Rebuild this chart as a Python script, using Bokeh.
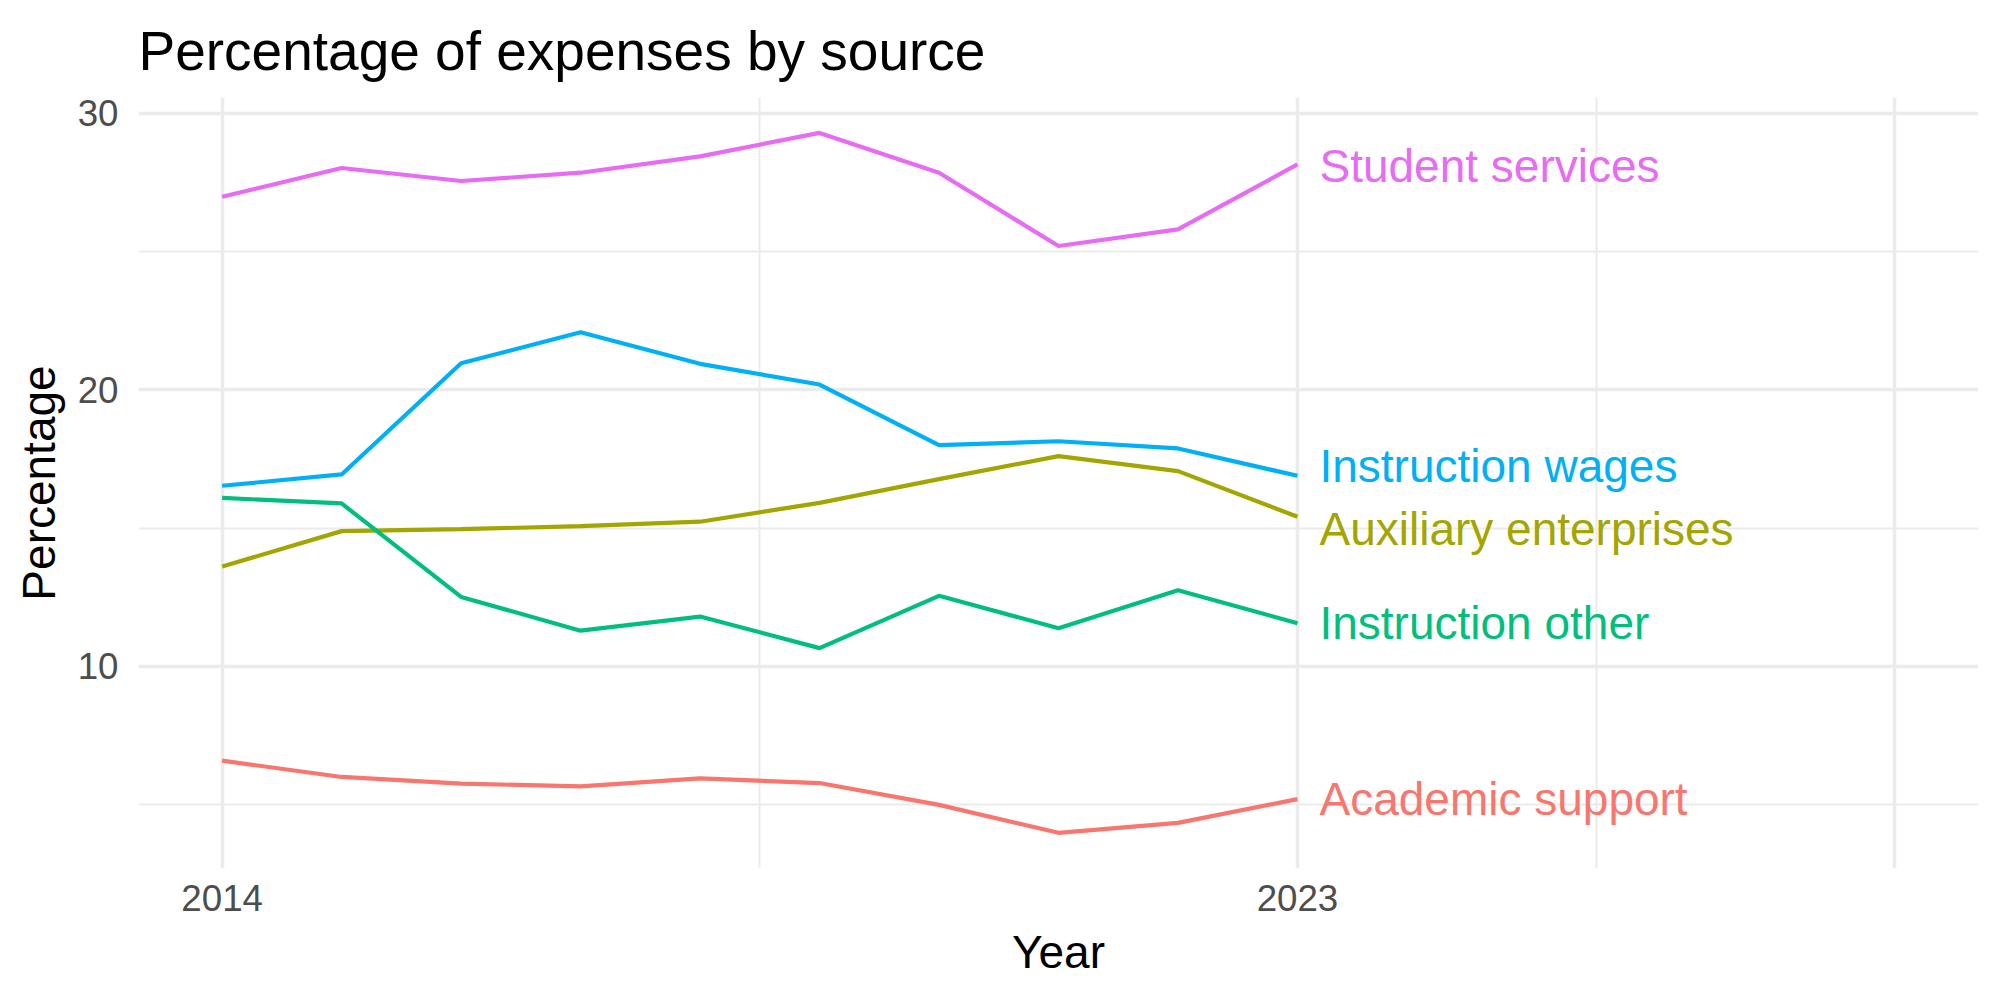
from bokeh.plotting import figure
from bokeh.models import FixedTicker, Range1d, ColumnDataSource
from bokeh.core.properties import value
from bokeh.embed import file_html
from bokeh.resources import INLINE

years = [2014, 2015, 2016, 2017, 2018, 2019, 2020, 2021, 2022, 2023]

academic_support = [6.59, 6.00, 5.76, 5.66, 5.95, 5.78, 4.99, 3.98, 4.34, 5.20]
auxiliary_enterprises = [13.61, 14.89, 14.96, 15.07, 15.23, 15.91, 16.77, 17.60, 17.06, 15.41]
instruction_other = [16.09, 15.89, 12.51, 11.29, 11.80, 10.66, 12.55, 11.38, 12.75, 11.56]
instruction_wages = [16.53, 16.94, 20.96, 22.08, 20.94, 20.19, 18.00, 18.14, 17.88, 16.89]
student_services = [26.98, 28.02, 27.55, 27.85, 28.44, 29.29, 27.85, 25.20, 25.80, 28.15]

series_names = ["Academic support", "Auxiliary enterprises", "Instruction other",
                "Instruction wages", "Student services"]
series_values = [academic_support, auxiliary_enterprises, instruction_other,
                 instruction_wages, student_services]
series_colors = ["#F8766D", "#A3A500", "#00BF7D", "#00B0F6", "#E76BF3"]
# repelled label positions (y in data units) at the last year
label_y = [5.21, 14.96, 11.55, 17.26, 28.11]

x_tick_labels = ["2014", "2023"]
x_ticks = [2014, 2023]
x_grid_major = [2014, 2023, 2028]
x_grid_minor = [2018.5, 2025.5]
y_ticks = [10, 20, 30]
y_minor = [5, 15, 25]

FONT = "Liberation Sans"

p = figure(width=2000, height=1000, output_backend="svg", toolbar_location=None,
           x_range=Range1d(2013.3, 2028.7), y_range=Range1d(2.69, 30.57),
           title="Percentage of expenses by source",
           min_border_left=138, min_border_right=22, min_border_top=97,
           min_border_bottom=132)

p.outline_line_color = None
p.background_fill_color = "white"
p.border_fill_color = "white"

# title
p.title.text_font = FONT
p.title.text_font_size = "55px"
p.title.text_font_style = "normal"
p.title.text_color = "black"
p.title.align = "left"
p.title.standoff = 32

# grids
p.xgrid.ticker = FixedTicker(ticks=x_grid_major, minor_ticks=x_grid_minor)
p.ygrid.ticker = FixedTicker(ticks=y_ticks, minor_ticks=y_minor)
for g in (p.xgrid, p.ygrid):
    g.grid_line_color = "#EBEBEB"
    g.grid_line_width = 3.5
    g.minor_grid_line_color = "#EBEBEB"
    g.minor_grid_line_width = 2

# axes
p.xaxis.ticker = FixedTicker(ticks=x_ticks)
p.xaxis.major_label_overrides = {t: l for t, l in zip(x_ticks, x_tick_labels)}
p.yaxis.ticker = FixedTicker(ticks=y_ticks)
for ax in (p.xaxis, p.yaxis):
    ax.axis_line_color = None
    ax.major_tick_line_color = None
    ax.minor_tick_line_color = None
    ax.major_tick_out = 0
    ax.major_tick_in = 0
    ax.minor_tick_out = 0
    ax.minor_tick_in = 0
    ax.major_label_text_font = FONT
    ax.major_label_text_font_size = "36.7px"
    ax.major_label_text_color = "#4D4D4D"
    ax.axis_label_text_font = FONT
    ax.axis_label_text_font_size = "46px"
    ax.axis_label_text_font_style = "normal"
    ax.axis_label_text_color = "black"

p.xaxis.axis_label = "Year"
p.yaxis.axis_label = "Percentage"
p.xaxis.major_label_standoff = 16
p.yaxis.major_label_standoff = 20
p.xaxis.axis_label_standoff = 12
p.yaxis.axis_label_standoff = 10

for name, vals, col in zip(series_names, series_values, series_colors):
    p.line(years, vals, line_color=col, line_width=4.2)

src = ColumnDataSource(dict(
    x=[years[-1]] * len(series_names),
    y=label_y,
    text=series_names,
    color=series_colors,
))
p.text(x="x", y="y", text="text", text_color="color", source=src,
       text_font=value(FONT), text_font_size="46px",
       text_align="left", text_baseline="middle", x_offset=22)

open("out.html", "w").write(file_html(p, INLINE))
